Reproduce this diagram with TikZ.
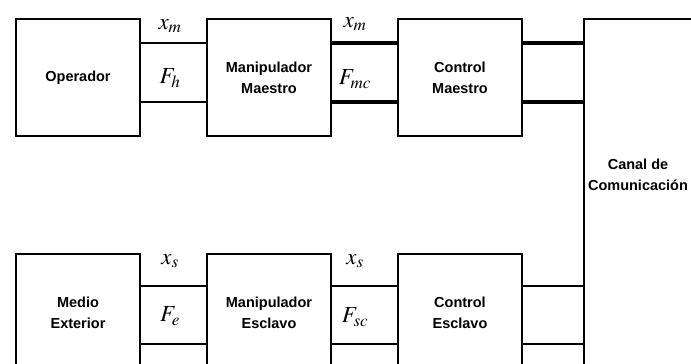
\documentclass[tikz,border=0pt]{standalone}
\usepackage{mathptmx}
\usepackage{fontspec}
\setsansfont{Liberation Sans}
\usetikzlibrary{positioning}

\begin{document}
\begin{tikzpicture}[x=1pt,y=-1pt,
    bloque/.style={draw,line width=2pt,minimum width=124pt,minimum height=117pt,
      anchor=north west,align=center,
      font=\sffamily\bfseries\fontsize{14.5}{21}\selectfont},
    senal/.style={font=\fontsize{23}{23}\selectfont},
    linea/.style={line width=2pt},
    gruesa/.style={line width=4pt}]
  \useasboundingbox (0,0) rectangle (691,364);
  \clip (0,0) rectangle (691,364);

  % Lado maestro
  \node[bloque] (op) at (15,18) {Operador};
  \node[bloque, right=65pt of op] (mm) {Manipulador\\Maestro};
  \node[bloque, right=65pt of mm] (cm) {Control\\Maestro};

  % Lado esclavo
  \node[bloque, below=116pt of op] (me) {Medio\\Exterior};
  \node[bloque, right=65pt of me] (me2) {Manipulador\\Esclavo};
  \node[bloque, right=65pt of me2] (ce) {Control\\Esclavo};

  % Canal
  \node[draw, line width=2pt, minimum width=124pt, minimum height=360pt,
    anchor=north west] (canal) at ([xshift=60pt]cm.north east) {};
  \node[font=\sffamily\bfseries\fontsize{14.5}{21}\selectfont, align=center]
    (canaltxt) at (638,175) {Canal de\\Comunicación};

  % Senales maestro
  \draw[linea] ([yshift=-25pt]op.north east) -- ([yshift=-25pt]mm.north west);
  \draw[linea] ([yshift=-84pt]op.north east) -- ([yshift=-84pt]mm.north west);
  \draw[gruesa] ([yshift=-25pt]mm.north east) -- ([yshift=-25pt]cm.north west);
  \draw[gruesa] ([yshift=-84pt]mm.north east) -- ([yshift=-84pt]cm.north west);
  \draw[gruesa] ([yshift=-25pt]cm.north east) -- ([yshift=-25pt]canal.north west);
  \draw[gruesa] ([yshift=-84pt]cm.north east) -- ([yshift=-84pt]canal.north west);
  \node[senal] (xm) at (170,26) {$x_m$};
  \node[senal] (fh) at (170,78) {$F_h$};
  \node[senal] (xmc) at (355,24) {$x_m$};
  \node[senal] (fmc) at (355,79) {$F_{mc}$};

  % Senales esclavo
  \draw[linea] ([yshift=-33pt]me.north east) -- ([yshift=-33pt]me2.north west);
  \draw[linea] ([yshift=-91pt]me.north east) -- ([yshift=-91pt]me2.north west);
  \draw[linea] ([yshift=-33pt]me2.north east) -- ([yshift=-33pt]ce.north west);
  \draw[linea] ([yshift=-91pt]me2.north east) -- ([yshift=-91pt]ce.north west);
  \draw[linea] ([yshift=-33pt]ce.north east) -- ([yshift=-33pt]ce.north east -| canal.west);
  \draw[linea] ([yshift=-91pt]ce.north east) -- ([yshift=-91pt]ce.north east -| canal.west);
  \node[senal] (xs) at (170,261) {$x_s$};
  \node[senal] (fe) at (170,316) {$F_e$};
  \node[senal] (xsc) at (355,261) {$x_s$};
  \node[senal] (fsc) at (355,317) {$F_{sc}$};
\end{tikzpicture}
\end{document}
